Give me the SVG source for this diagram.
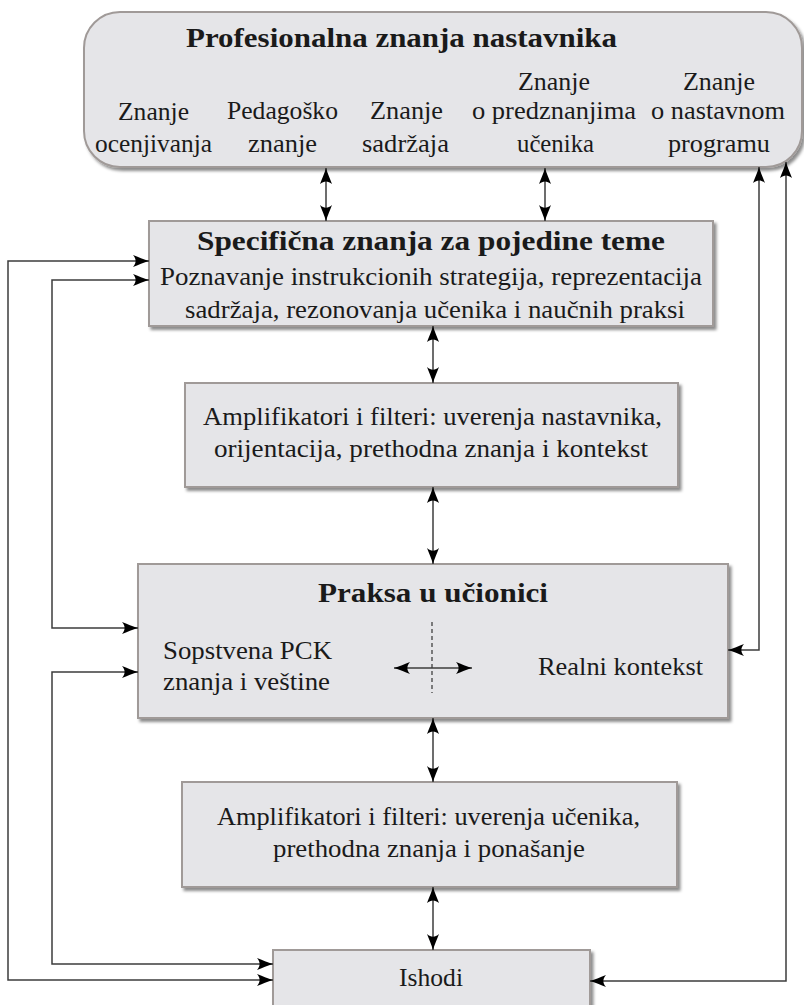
<svg xmlns="http://www.w3.org/2000/svg" width="804" height="1005" viewBox="0 0 804 1005">
  <defs>
    <style>
      .box { fill: #e5e5e8; stroke: #a09a98; stroke-width: 2; filter: url(#shadow); }
      .t { font-family: 'Liberation Serif', 'DejaVu Serif', serif; font-size: 26px; fill: #1a1a1a; }
      .b { font-family: 'Liberation Serif', 'DejaVu Serif', serif; font-size: 27px; font-weight: bold; fill: #1a1a1a; }
      .conn { fill: none; stroke: #3c3c3c; stroke-width: 1.5; marker-start: url(#ah); marker-end: url(#ah); }
      .dash { fill: none; stroke: #333; stroke-width: 1.2; stroke-dasharray: 4 3; }
    </style>
    <filter id="shadow" x="-5%" y="-5%" width="112%" height="125%">
      <feDropShadow dx="2.5" dy="3" stdDeviation="1.8" flood-color="#000" flood-opacity="0.45"/>
    </filter>
    <marker id="ah" viewBox="-17 -7 18 14" refX="0" refY="0" markerWidth="18" markerHeight="14" markerUnits="userSpaceOnUse" orient="auto-start-reverse">
      <path d="M0,0 C-5,-1.5 -11,-4 -16,-6 C-12.5,-2 -12.5,2 -16,6 C-11,4 -5,1.5 0,0Z" fill="#000"/>
    </marker>
  </defs>

  <!-- top node: professional knowledge -->
  <g id="profesionalna">
    <rect class="box" x="84" y="12" width="718" height="155" rx="36" ry="36"/>
    <text class="b" x="186" y="47" textLength="431" lengthAdjust="spacingAndGlyphs">Profesionalna znanja nastavnika</text>
    <text class="t" x="118" y="120" textLength="71" lengthAdjust="spacingAndGlyphs">Znanje</text>
    <text class="t" x="95" y="152" textLength="117" lengthAdjust="spacingAndGlyphs">ocenjivanja</text>
    <text class="t" x="227" y="119" textLength="111" lengthAdjust="spacingAndGlyphs">Pedagoško</text>
    <text class="t" x="248" y="152" textLength="69" lengthAdjust="spacingAndGlyphs">znanje</text>
    <text class="t" x="370" y="119" textLength="73" lengthAdjust="spacingAndGlyphs">Znanje</text>
    <text class="t" x="362" y="152" textLength="87" lengthAdjust="spacingAndGlyphs">sadržaja</text>
    <text class="t" x="518" y="90" textLength="72" lengthAdjust="spacingAndGlyphs">Znanje</text>
    <text class="t" x="472" y="119" textLength="164" lengthAdjust="spacingAndGlyphs">o predznanjima</text>
    <text class="t" x="517" y="152" textLength="77" lengthAdjust="spacingAndGlyphs">učenika</text>
    <text class="t" x="683" y="90" textLength="72" lengthAdjust="spacingAndGlyphs">Znanje</text>
    <text class="t" x="651" y="119" textLength="134" lengthAdjust="spacingAndGlyphs">o nastavnom</text>
    <text class="t" x="668" y="152" textLength="102" lengthAdjust="spacingAndGlyphs">programu</text>
  </g>

  <!-- topic-specific knowledge -->
  <g id="specificna">
    <rect class="box" x="149" y="221" width="564" height="105"/>
    <text class="b" x="197" y="250" textLength="468" lengthAdjust="spacingAndGlyphs">Specifična znanja za pojedine teme</text>
    <text class="t" x="160" y="285" textLength="542" lengthAdjust="spacingAndGlyphs">Poznavanje instrukcionih strategija, reprezentacija</text>
    <text class="t" x="185" y="318" textLength="500" lengthAdjust="spacingAndGlyphs">sadržaja, rezonovanja učenika i naučnih praksi</text>
  </g>

  <!-- teacher amplifiers and filters -->
  <g id="filteri-nastavnik">
    <rect class="box" x="185" y="383" width="493" height="104"/>
    <text class="t" x="203" y="425" textLength="459" lengthAdjust="spacingAndGlyphs">Amplifikatori i filteri: uverenja nastavnika,</text>
    <text class="t" x="214" y="457" textLength="434" lengthAdjust="spacingAndGlyphs">orijentacija, prethodna znanja i kontekst</text>
  </g>

  <!-- classroom practice -->
  <g id="praksa">
    <rect class="box" x="138" y="564" width="590" height="154"/>
    <text class="b" x="318" y="602" textLength="230" lengthAdjust="spacingAndGlyphs">Praksa u učionici</text>
    <text class="t" x="163" y="659" textLength="169" lengthAdjust="spacingAndGlyphs">Sopstvena PCK</text>
    <text class="t" x="163" y="690" textLength="167" lengthAdjust="spacingAndGlyphs">znanja i veštine</text>
    <text class="t" x="538" y="675" textLength="165" lengthAdjust="spacingAndGlyphs">Realni kontekst</text>
    <line class="dash" x1="432" y1="622" x2="432" y2="693"/>
    <line class="conn" x1="394" y1="668" x2="472" y2="668"/>
  </g>

  <!-- student amplifiers and filters -->
  <g id="filteri-ucenik">
    <rect class="box" x="182" y="782" width="495" height="105"/>
    <text class="t" x="217" y="825" textLength="423" lengthAdjust="spacingAndGlyphs">Amplifikatori i filteri: uverenja učenika,</text>
    <text class="t" x="273" y="857" textLength="312" lengthAdjust="spacingAndGlyphs">prethodna znanja i ponašanje</text>
  </g>

  <!-- outcomes -->
  <g id="ishodi">
    <rect class="box" x="273" y="950" width="317" height="70"/>
    <text class="t" x="399" y="986" textLength="64" lengthAdjust="spacingAndGlyphs">Ishodi</text>
  </g>

  <!-- connectors -->
  <g id="connectors">
    <line class="conn" x1="326" y1="168" x2="326" y2="221"/>
    <line class="conn" x1="545" y1="168" x2="545" y2="221"/>
    <line class="conn" x1="433" y1="326" x2="433" y2="383"/>
    <line class="conn" x1="433" y1="487" x2="433" y2="564"/>
    <line class="conn" x1="433" y1="718" x2="433" y2="782"/>
    <line class="conn" x1="433" y1="887" x2="433" y2="950"/>
    <!-- left feedback loops -->
    <polyline class="conn" points="273,980 8,980 8,261 149,261"/>
    <polyline class="conn" points="149,280 52,280 52,628 138,628"/>
    <polyline class="conn" points="138,672 52,672 52,964 273,964"/>
    <!-- right feedback loops -->
    <polyline class="conn" points="759,167 759,650 728,650"/>
    <polyline class="conn" points="786,162 786,981 590,981"/>
  </g>
</svg>
